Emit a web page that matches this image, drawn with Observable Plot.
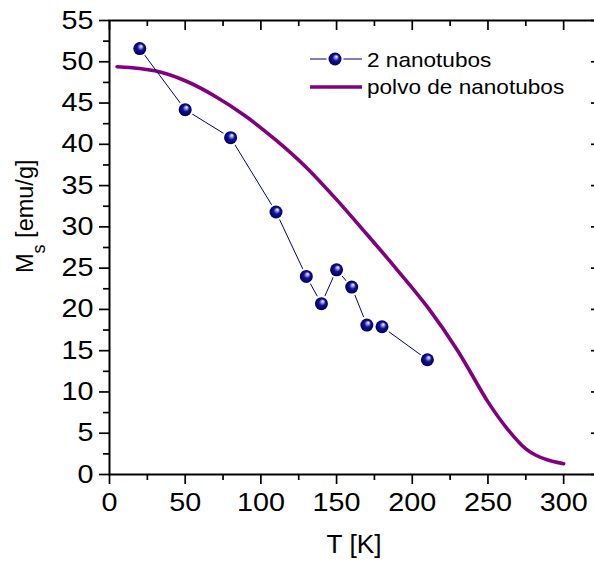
<!DOCTYPE html>
<html><head><meta charset="utf-8">
<script src="https://cdn.jsdelivr.net/npm/d3@7"></script>
<script src="https://cdn.jsdelivr.net/npm/@observablehq/plot@0.6"></script>
<style>
body{margin:0;background:#fff;overflow:hidden}
#chart{width:594px;height:562px;overflow:hidden;position:relative}
#chart svg{max-width:none !important}
</style></head><body><div id="chart"></div>
<script>
// Data: "2 nanotubos"
const tubeT  = [20, 50, 80, 110, 130, 140, 150, 160, 170, 180, 210];
const tubeMs = [51.6, 44.2, 40.8, 31.8, 24.0, 20.7, 24.8, 22.7, 18.1, 17.9, 13.9];
// Data: "polvo de nanotubos"
const powderT  = [5, 30, 50, 70, 90, 110, 130, 150, 170, 190, 210, 230, 250, 262.5, 275, 282, 289.5, 300];
const powderMs = [49.4, 48.9, 47.7, 45.8, 43.4, 40.5, 37.2, 33.3, 29.1, 24.8, 20.3, 15.0, 8.8, 5.6, 3.1, 2.3, 1.75, 1.3];
// Ticks
const xTicks = [0, 50, 100, 150, 200, 250, 300];
const xMinor = [25, 75, 125, 175, 225, 275];
const yTicks = [0, 5, 10, 15, 20, 25, 30, 35, 40, 45, 50, 55];
const yMinor = [2.5, 7.5, 12.5, 17.5, 22.5, 27.5, 32.5, 37.5, 42.5, 47.5, 52.5];
const seriesNames = ["2 nanotubos", "polvo de nanotubos"];
const xTitle = "T [K]";

const tubes = tubeT.map((t, i) => ({T: t, Ms: tubeMs[i]}));
const powder = powderT.map((t, i) => ({T: t, Ms: powderMs[i]}));

const W = 601, H = 562, mL = 109, mR = 0, mT = 20, mB = 88;
const fw = W - mL - mR, fh = H - mT - mB;
const navy = "#000080", purple = "#800080";

const plot = Plot.plot({
  width: W, height: H,
  marginLeft: mL, marginRight: mR, marginTop: mT, marginBottom: mB,
  x: {domain: [0, 325]},
  y: {domain: [0, 55]},
  style: {fontFamily: "'Liberation Sans', Arial, sans-serif", color: "#000", background: "#fff", overflow: "visible", maxWidth: "none"},
  marks: [
    Plot.axisX({ticks: xMinor, tickSize: 6, tickFormat: () => "", label: null, strokeWidth: 1.7}),
    Plot.axisY({ticks: yMinor, tickSize: 6, tickFormat: () => "", label: null, strokeWidth: 1.7}),
    Plot.axisX({ticks: xTicks, tickSize: 10, tickPadding: 9, fontSize: 25, label: null, strokeWidth: 1.7}),
    Plot.axisY({ticks: yTicks, tickSize: 10, tickPadding: 6, fontSize: 25, label: null, strokeWidth: 1.7}),
    Plot.ruleX(xTicks, {x: d => d, insetBottom: fh - 10, stroke: "#000", strokeWidth: 1.7}),
    Plot.ruleX(xMinor, {x: d => d, insetBottom: fh - 6, stroke: "#000", strokeWidth: 1.7}),
    Plot.ruleY(yTicks, {y: d => d, insetLeft: fw - 10, stroke: "#000", strokeWidth: 1.7}),
    Plot.ruleY(yMinor, {y: d => d, insetLeft: fw - 6, stroke: "#000", strokeWidth: 1.7}),
    Plot.frame({stroke: "#000", strokeWidth: 2}),
    Plot.line(powder, {x: "T", y: "Ms", stroke: purple, strokeWidth: 3.6, curve: "catmull-rom"}),
    Plot.line(tubes, {x: "T", y: "Ms", stroke: navy, strokeWidth: 1}),
    Plot.dot(tubes, {x: "T", y: "Ms", r: 8.5, fill: "#fff", stroke: "none"}),
    Plot.dot(tubes, {x: "T", y: "Ms", r: 6.5, fill: "url(#ball)", stroke: "none"})
  ]
});

plot.style.maxWidth = "none";
document.getElementById("chart").appendChild(plot);
const svg = d3.select(plot);

const defs = svg.insert("defs", ":first-child");
const g = defs.append("radialGradient").attr("id", "ball")
  .attr("cx", "50%").attr("cy", "50%").attr("r", "50%").attr("fx", "62%").attr("fy", "30%");
g.append("stop").attr("offset", "0%").attr("stop-color", "#ffffff");
g.append("stop").attr("offset", "22%").attr("stop-color", "#9a9ae0");
g.append("stop").attr("offset", "50%").attr("stop-color", "#12129a");
g.append("stop").attr("offset", "100%").attr("stop-color", "#000055");

svg.selectAll('g[aria-label$="tick label"] text').each(function() {
  const t = this.getAttribute("transform") || "";
  this.setAttribute("transform", t + " scale(1.15,1)");
});

const font = "'Liberation Sans', Arial, sans-serif";
svg.append("text").attr("transform", "translate(354,553) scale(1.05,1)")
  .attr("text-anchor", "middle").attr("font-family", font).attr("font-size", 25).attr("fill", "#000")
  .text(xTitle);
const yt = svg.append("text").attr("transform", "translate(33,273) rotate(-90)")
  .attr("text-anchor", "start").attr("font-family", font).attr("font-size", 23.5).attr("fill", "#000");
yt.append("tspan").text("M");
yt.append("tspan").attr("font-size", 18).attr("dy", 12).text("s");
yt.append("tspan").attr("dy", -12).text(" [emu/g]");

const lg = svg.append("g").attr("font-family", font).attr("font-size", 20).attr("fill", "#000").attr("text-anchor", "start");
lg.append("line").attr("x1", 310).attr("x2", 362).attr("y1", 59).attr("y2", 59).attr("stroke", navy).attr("stroke-width", 1);
lg.append("circle").attr("cx", 335).attr("cy", 59).attr("r", 8.5).attr("fill", "#fff");
lg.append("circle").attr("cx", 335).attr("cy", 59).attr("r", 6.5).attr("fill", "url(#ball)");
lg.append("text").attr("transform", "translate(367,67) scale(1.13,1)").text(seriesNames[0]);
lg.append("line").attr("x1", 310).attr("x2", 362).attr("y1", 87).attr("y2", 87).attr("stroke", purple).attr("stroke-width", 3.6);
lg.append("text").attr("transform", "translate(367,94) scale(1.13,1)").text(seriesNames[1]);
</script></body></html>
